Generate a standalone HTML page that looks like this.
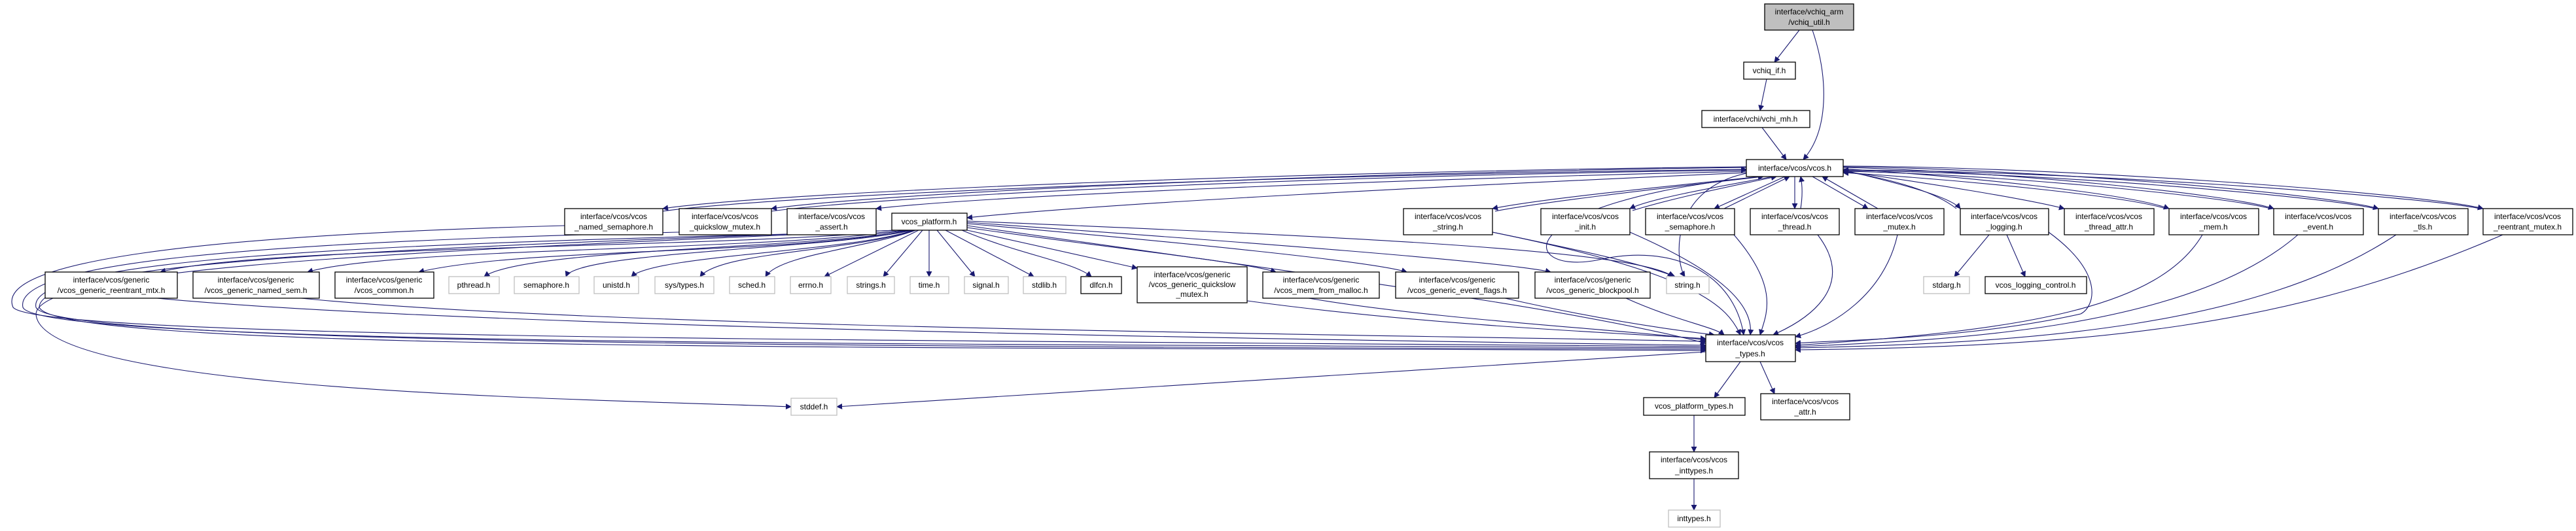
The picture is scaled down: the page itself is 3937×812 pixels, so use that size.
<!DOCTYPE html>
<html><head><meta charset="utf-8"><style>
html,body{margin:0;padding:0;background:#fff;}
svg{display:block}
text{font-family:"Liberation Sans",sans-serif;font-size:12px;fill:#000;text-anchor:middle}
.n{fill:#fff;stroke:#000;stroke-width:1.3}
.g{fill:#fff;stroke:#bfbfbf;stroke-width:1.3}
.e{fill:none;stroke:#191970;stroke-width:1.1;marker-end:url(#a)}
</style></head><body>
<svg width="3937" height="812" viewBox="0 0 3937 812" xmlns="http://www.w3.org/2000/svg">
<defs><marker id="a" viewBox="0 0 10 10" refX="9" refY="5" markerWidth="9" markerHeight="9" markerUnits="userSpaceOnUse" orient="auto"><path d="M0,0 L10,5 L0,10 z" fill="#191970"/></marker></defs>

<!-- edges -->
<path class="e" d="M2750,46 L2712,95"/>
<path class="e" d="M2770,46 C2795,120 2795,200 2756,244"/>
<path class="e" d="M2700,121 L2690,169"/>
<path class="e" d="M2693,195 L2730,244"/>

<path class="e" d="M2669,255 C2000,262 1200,292 1013,319"/>
<path class="e" d="M1013,323 C1200,297 2000,266 2669,259"/>
<path class="e" d="M2669,256 C2000,265 1350,295 1179,319"/>
<path class="e" d="M1179,323 C1350,300 2000,269 2669,260"/>
<path class="e" d="M2669,262 C2100,275 1500,300 1339,319"/>
<path class="e" d="M2669,264 C2200,285 1700,310 1478,333"/>
<path class="e" d="M2690,270 C2500,290 2350,305 2281,319"/>
<path class="e" d="M2285,323 C2350,310 2520,290 2695,270"/>
<path class="e" d="M2710,270 C2600,290 2520,305 2491,319"/>
<path class="e" d="M2495,322 C2550,305 2620,290 2715,270"/>
<path class="e" d="M2728,270 L2620,319"/>
<path class="e" d="M2635,319 L2735,270"/>
<path class="e" d="M2743,270 L2743,319"/>
<path class="e" d="M2752,319 C2755,300 2755,285 2752,270"/>
<path class="e" d="M2770,270 L2855,319"/>
<path class="e" d="M2870,319 L2785,270"/>
<path class="e" d="M2817,260 C2900,280 2980,300 2996,319"/>
<path class="e" d="M2990,319 C2960,295 2900,275 2817,262"/>
<path class="e" d="M2817,262 C2950,280 3100,305 3155,319"/>
<path class="e" d="M2817,258 C3000,270 3250,295 3315,319"/>
<path class="e" d="M3310,319 C3250,300 3000,275 2817,264"/>
<path class="e" d="M2817,256 C3050,262 3400,295 3475,319"/>
<path class="e" d="M3470,319 C3400,300 3050,266 2817,262"/>
<path class="e" d="M2817,255 C3100,258 3550,295 3635,319"/>
<path class="e" d="M3630,319 C3550,300 3100,262 2817,261"/>
<path class="e" d="M2817,254 C3150,255 3700,295 3795,319"/>
<path class="e" d="M3790,319 C3700,300 3150,260 2817,260"/>

<!-- left loops to types -->
<path class="e" d="M863,345 C300,360 -10,400 20,470 C60,520 1500,520 2607,530"/>
<path class="e" d="M1038,355 C400,370 20,400 35,470 C60,530 1500,525 2607,532"/>
<path class="e" d="M1203,358 C500,375 40,400 55,470 C80,530 1500,530 2607,534"/>
<path class="e" d="M1370,352 C600,380 60,400 60,470 C90,540 1500,530 2607,536"/>
<path class="e" d="M1370,352 C600,385 60,410 55,480 C60,600 900,610 1209,622"/>
<path class="e" d="M1478,345 C2000,420 2400,470 2607,525"/>

<!-- platform to row2 -->
<path class="e" d="M1385,352 C1100,380 400,375 245,416"/>
<path class="e" d="M1388,352 C1150,385 600,378 470,416"/>
<path class="e" d="M1390,352 C1200,390 800,378 640,416"/>
<path class="e" d="M1392,352 C1250,380 800,380 740,423"/>
<path class="e" d="M1394,352 C1280,380 880,385 865,423"/>
<path class="e" d="M1396,352 C1300,385 1000,390 965,423"/>
<path class="e" d="M1398,352 C1300,385 1100,385 1070,423"/>
<path class="e" d="M1400,352 C1320,380 1190,390 1170,423"/>
<path class="e" d="M1404,352 L1260,423"/>
<path class="e" d="M1410,352 L1350,423"/>
<path class="e" d="M1420,352 L1420,423"/>
<path class="e" d="M1432,352 L1490,423"/>
<path class="e" d="M1445,352 L1580,423"/>
<path class="e" d="M1470,352 C1560,390 1640,400 1668,423"/>
<path class="e" d="M1478,352 L1738,410"/>
<path class="e" d="M1478,348 C1700,380 1900,400 1950,416"/>
<path class="e" d="M1478,342 C1800,370 2100,400 2150,416"/>
<path class="e" d="M1478,340 C1900,370 2300,400 2370,416"/>
<path class="e" d="M1478,338 C2000,360 2500,380 2557,423"/>
<path class="e" d="M2281,355 C2400,380 2500,400 2560,423"/>
<path class="e" d="M2669,265 C2550,290 2560,400 2575,423"/>

<!-- to types -->
<path class="e" d="M2690,270 C2300,310 2320,420 2440,398 C2560,370 2650,420 2665,512"/>
<path class="e" d="M2281,355 C2600,420 2640,470 2660,512"/>
<path class="e" d="M2491,355 C2640,420 2680,470 2675,512"/>
<path class="e" d="M2650,359 C2720,440 2700,480 2690,512"/>
<path class="e" d="M2778,359 C2840,440 2760,490 2710,512"/>
<path class="e" d="M2900,359 C2880,450 2800,500 2744,515"/>
<path class="e" d="M3131,355 C3220,420 3200,470 3180,480 C3000,520 2800,520 2744,525"/>
<path class="e" d="M3366,359 C3300,470 3100,505 2744,528"/>
<path class="e" d="M3512,359 C3350,500 3000,520 2744,530"/>
<path class="e" d="M3662,359 C3450,500 3100,525 2744,532"/>
<path class="e" d="M3825,359 C3500,500 3200,530 2744,535"/>
<path class="e" d="M240,456 C700,500 2000,520 2607,528"/>
<path class="e" d="M460,456 C900,500 2000,510 2607,522"/>
<path class="e" d="M1906,460 C2200,500 2500,510 2607,518"/>
<path class="e" d="M2000,456 C2200,490 2500,505 2607,520"/>
<path class="e" d="M2300,456 C2450,490 2560,505 2620,512"/>
<path class="e" d="M2485,456 C2560,490 2620,500 2635,512"/>
<path class="e" d="M2607,538 C2000,580 1500,610 1279,622"/>
<path class="e" d="M2660,553 L2620,608"/>
<path class="e" d="M2690,553 L2712,602"/>
<path class="e" d="M2589,635 L2589,691"/>
<path class="e" d="M2589,732 L2589,780"/>
<path class="e" d="M3040,359 L2987,423"/>
<path class="e" d="M3067,359 L3095,423"/>

<!-- nodes -->
<rect x="2697" y="6" width="136" height="40" fill="#bfbfbf" stroke="#000" stroke-width="1.3"/>
<text x="2765" y="22">interface/vchiq_arm</text><text x="2765" y="38">/vchiq_util.h</text>
<rect class="n" x="2665" y="95" width="79" height="26"/><text x="2704" y="112">vchiq_if.h</text>
<rect class="n" x="2601" y="169" width="165" height="26"/><text x="2683" y="186">interface/vchi/vchi_mh.h</text>
<rect class="n" x="2669" y="244" width="148" height="26"/><text x="2743" y="261">interface/vcos/vcos.h</text>

<g>
<rect class="n" x="863" y="319" width="150" height="40"/><text x="938" y="335">interface/vcos/vcos</text><text x="938" y="351">_named_semaphore.h</text>
<rect class="n" x="1038" y="319" width="141" height="40"/><text x="1108" y="335">interface/vcos/vcos</text><text x="1108" y="351">_quickslow_mutex.h</text>
<rect class="n" x="1203" y="319" width="136" height="40"/><text x="1271" y="335">interface/vcos/vcos</text><text x="1271" y="351">_assert.h</text>
<rect class="n" x="1363" y="326" width="115" height="26"/><text x="1420" y="343">vcos_platform.h</text>
<rect class="n" x="2145" y="319" width="136" height="40"/><text x="2213" y="335">interface/vcos/vcos</text><text x="2213" y="351">_string.h</text>
<rect class="n" x="2355" y="319" width="136" height="40"/><text x="2423" y="335">interface/vcos/vcos</text><text x="2423" y="351">_init.h</text>
<rect class="n" x="2515" y="319" width="136" height="40"/><text x="2583" y="335">interface/vcos/vcos</text><text x="2583" y="351">_semaphore.h</text>
<rect class="n" x="2675" y="319" width="136" height="40"/><text x="2743" y="335">interface/vcos/vcos</text><text x="2743" y="351">_thread.h</text>
<rect class="n" x="2835" y="319" width="136" height="40"/><text x="2903" y="335">interface/vcos/vcos</text><text x="2903" y="351">_mutex.h</text>
<rect class="n" x="2996" y="319" width="135" height="40"/><text x="3063" y="335">interface/vcos/vcos</text><text x="3063" y="351">_logging.h</text>
<rect class="n" x="3155" y="319" width="137" height="40"/><text x="3223" y="335">interface/vcos/vcos</text><text x="3223" y="351">_thread_attr.h</text>
<rect class="n" x="3315" y="319" width="137" height="40"/><text x="3383" y="335">interface/vcos/vcos</text><text x="3383" y="351">_mem.h</text>
<rect class="n" x="3475" y="319" width="137" height="40"/><text x="3543" y="335">interface/vcos/vcos</text><text x="3543" y="351">_event.h</text>
<rect class="n" x="3635" y="319" width="137" height="40"/><text x="3703" y="335">interface/vcos/vcos</text><text x="3703" y="351">_tls.h</text>
<rect class="n" x="3795" y="319" width="137" height="40"/><text x="3863" y="335">interface/vcos/vcos</text><text x="3863" y="351">_reentrant_mutex.h</text>
</g>
<g>
<rect class="n" x="69" y="416" width="202" height="40"/><text x="170" y="432">interface/vcos/generic</text><text x="170" y="448">/vcos_generic_reentrant_mtx.h</text>
<rect class="n" x="295" y="416" width="193" height="40"/><text x="391" y="432">interface/vcos/generic</text><text x="391" y="448">/vcos_generic_named_sem.h</text>
<rect class="n" x="512" y="416" width="151" height="40"/><text x="587" y="432">interface/vcos/generic</text><text x="587" y="448">/vcos_common.h</text>
<rect class="g" x="686" y="423" width="77" height="26"/><text x="724" y="440">pthread.h</text>
<rect class="g" x="786" y="423" width="99" height="26"/><text x="835" y="440">semaphore.h</text>
<rect class="g" x="908" y="423" width="68" height="26"/><text x="942" y="440">unistd.h</text>
<rect class="g" x="1001" y="423" width="90" height="26"/><text x="1046" y="440">sys/types.h</text>
<rect class="g" x="1115" y="423" width="69" height="26"/><text x="1149" y="440">sched.h</text>
<rect class="g" x="1208" y="423" width="62" height="26"/><text x="1239" y="440">errno.h</text>
<rect class="g" x="1295" y="423" width="72" height="26"/><text x="1331" y="440">strings.h</text>
<rect class="g" x="1391" y="423" width="59" height="26"/><text x="1420" y="440">time.h</text>
<rect class="g" x="1474" y="423" width="67" height="26"/><text x="1507" y="440">signal.h</text>
<rect class="g" x="1564" y="423" width="65" height="26"/><text x="1596" y="440">stdlib.h</text>
<rect class="n" x="1652" y="423" width="62" height="26"/><text x="1683" y="440">dlfcn.h</text>
<rect class="n" x="1738" y="408" width="168" height="55"/><text x="1822" y="424">interface/vcos/generic</text><text x="1822" y="439">/vcos_generic_quickslow</text><text x="1822" y="454">_mutex.h</text>
<rect class="n" x="1930" y="416" width="178" height="40"/><text x="2019" y="432">interface/vcos/generic</text><text x="2019" y="448">/vcos_mem_from_malloc.h</text>
<rect class="n" x="2133" y="416" width="188" height="40"/><text x="2227" y="432">interface/vcos/generic</text><text x="2227" y="448">/vcos_generic_event_flags.h</text>
<rect class="n" x="2346" y="416" width="176" height="40"/><text x="2434" y="432">interface/vcos/generic</text><text x="2434" y="448">/vcos_generic_blockpool.h</text>
<rect class="g" x="2547" y="423" width="65" height="26"/><text x="2579" y="440">string.h</text>
<rect class="g" x="2940" y="423" width="70" height="26"/><text x="2975" y="440">stdarg.h</text>
<rect class="n" x="3034" y="423" width="155" height="26"/><text x="3111" y="440">vcos_logging_control.h</text>
</g>
<rect class="n" x="2607" y="512" width="137" height="41"/><text x="2675" y="528">interface/vcos/vcos</text><text x="2675" y="545">_types.h</text>
<rect class="g" x="1209" y="609" width="70" height="26"/><text x="1244" y="626">stddef.h</text>
<rect class="n" x="2512" y="608" width="155" height="27"/><text x="2589" y="625">vcos_platform_types.h</text>
<rect class="n" x="2691" y="602" width="136" height="40"/><text x="2759" y="618">interface/vcos/vcos</text><text x="2759" y="634">_attr.h</text>
<rect class="n" x="2521" y="691" width="136" height="41"/><text x="2589" y="707">interface/vcos/vcos</text><text x="2589" y="724">_inttypes.h</text>
<rect class="g" x="2550" y="780" width="79" height="26"/><text x="2589" y="797">inttypes.h</text>
</svg>
</body></html>
